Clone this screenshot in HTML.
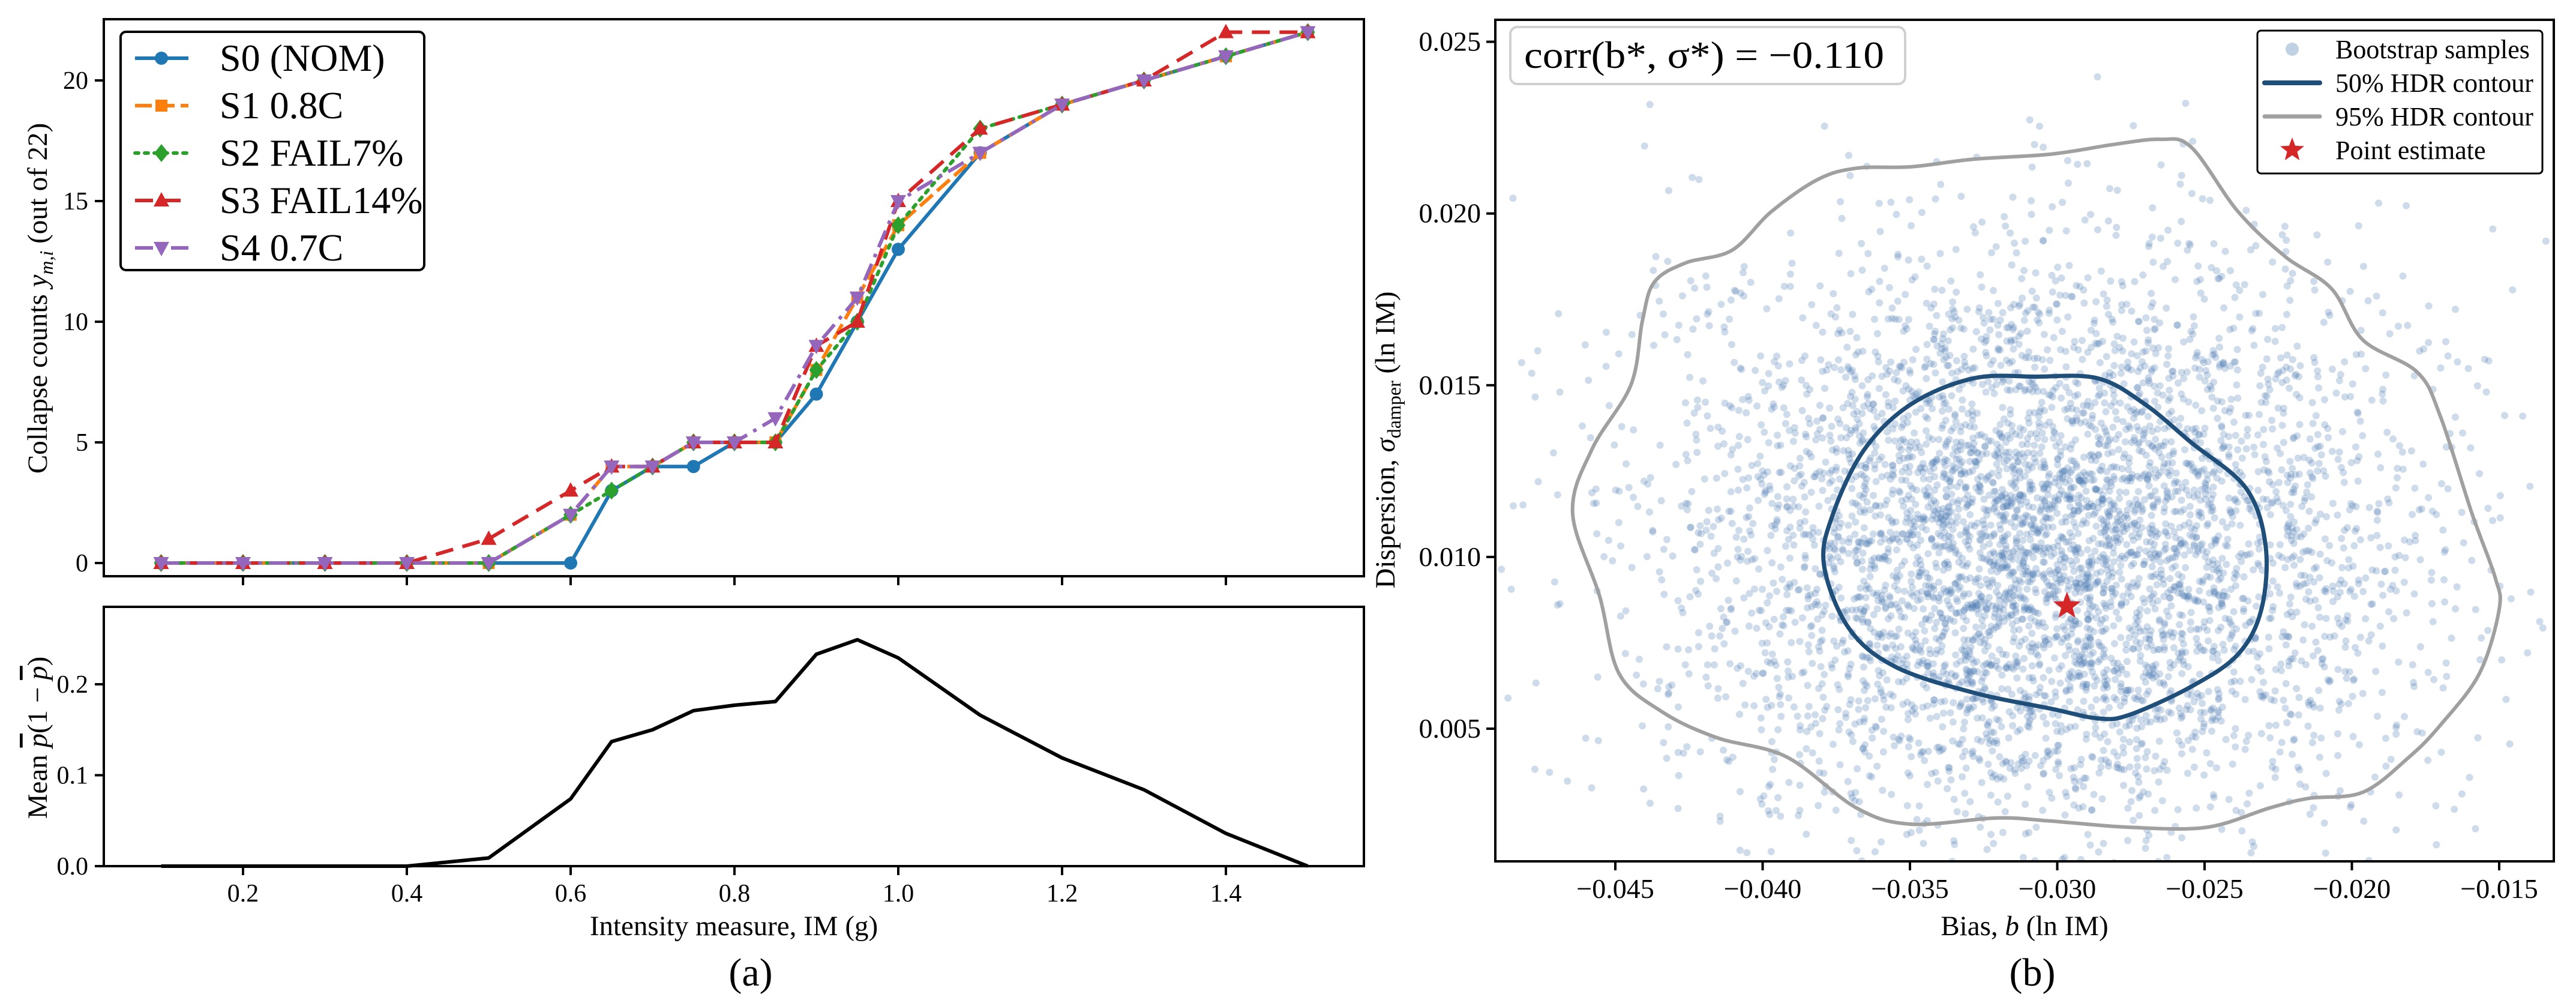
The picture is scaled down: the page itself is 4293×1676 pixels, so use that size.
<!DOCTYPE html>
<html><head><meta charset="utf-8">
<style>
html,body{margin:0;padding:0;background:#fff;}
svg, svg text{font-family:"Liberation Serif","DejaVu Serif",serif;}
svg{display:block;}
</style></head>
<body>
<svg id="fig" width="4293" height="1676" viewBox="0 0 4293 1676" xmlns="http://www.w3.org/2000/svg" font-family="Liberation Serif, DejaVu Serif, serif">
  <rect width="4293" height="1676" fill="#fff"/>
  <g id="gtop"></g>
  <g id="gbot"></g>
  <g id="gright"></g>
  <text x="1251" y="1642" font-size="66" text-anchor="middle">(a)</text>
  <text x="3387" y="1642" font-size="66" text-anchor="middle">(b)</text>
</svg>
<script>
// ---------- data: panel (a) ----------
const imLevels = [0.1,0.2,0.3,0.4,0.5,0.6,0.65,0.7,0.75,0.8,0.85,0.9,0.95,1.0,1.1,1.2,1.3,1.4,1.5];
const s0Counts = [0,0,0,0,0,0,3,4,4,5,5,7,10,13,17,19,20,21,22];
const s1Counts = [0,0,0,0,0,2,4,4,5,5,5,8,11,14,17,19,20,21,22];
const s2Counts = [0,0,0,0,0,2,3,4,5,5,5,8,10,14,18,19,20,21,22];
const s3Counts = [0,0,0,0,1,3,4,4,5,5,5,9,10,15,18,19,20,22,22];
const s4Counts = [0,0,0,0,0,2,4,4,5,5,6,9,11,15,17,19,20,21,22];
const meanPQ = [0,0,0,0,0.009,0.074,0.137,0.15,0.171,0.177,0.181,0.233,0.249,0.229,0.166,0.119,0.084,0.036,0.0];
const xTicksA = [0.2,0.4,0.6,0.8,1.0,1.2,1.4];
const xTickLabelsA = ["0.2","0.4","0.6","0.8","1.0","1.2","1.4"];
const yTicksTop = [0,5,10,15,20];
const yTicksBot = [0,0.1,0.2];
const yTickLabelsBot = ["0.0","0.1","0.2"];
const seriesNames = ["S0 (NOM)","S1 0.8C","S2 FAIL7%","S3 FAIL14%","S4 0.7C"];
// ---------- data: panel (b) ----------
const contour95B = [-0.0265,-0.02544,-0.02386,-0.02227,-0.02069,-0.01963,-0.01778,-0.01699,-0.01593,-0.01514,-0.0150,-0.01567,-0.01699,-0.01805,-0.01963,-0.02148,-0.0228,-0.02492,-0.02756,-0.0302,-0.03205,-0.03496,-0.03681,-0.03919,-0.04156,-0.04341,-0.04487,-0.04553,-0.04645,-0.04579,-0.04447,-0.04408,-0.04368,-0.04262,-0.04104,-0.03971,-0.03813,-0.03681,-0.03496,-0.03285,-0.0302,-0.02809];
const contour95S = [0.02216,0.02192,0.02005,0.01875,0.01781,0.01632,0.01538,0.01408,0.01128,0.00941,0.00848,0.00661,0.00511,0.00418,0.00315,0.00297,0.00269,0.00213,0.00213,0.00231,0.0024,0.00222,0.00269,0.00418,0.00474,0.00549,0.0066,0.00885,0.01128,0.01314,0.01501,0.01688,0.018,0.01856,0.01893,0.02005,0.02099,0.02132,0.02136,0.02158,0.02173,0.02201];
const contour50B = [-0.03073,-0.02862,-0.02703,-0.02545,-0.0236,-0.02293,-0.02307,-0.02386,-0.02544,-0.02756,-0.02862,-0.0302,-0.03285,-0.03549,-0.03707,-0.03792,-0.0376,-0.03654,-0.03496,-0.03285];
const contour50S = [0.01525,0.0152,0.01445,0.01333,0.01201,0.01034,0.00848,0.00717,0.00623,0.0054,0.0053,0.00558,0.00605,0.0068,0.00792,0.00978,0.01128,0.01314,0.01445,0.0152];
const pointEstimate = [-0.02967, 0.00857];
const sampleCenter = [-0.0305, 0.0104];
const sampleSpread = [0.0062, 0.0042];
const sampleCount = [5000];
const xTicksB = [-0.045,-0.040,-0.035,-0.030,-0.025,-0.020,-0.015];
const xTickLabelsB = ["\u22120.045","\u22120.040","\u22120.035","\u22120.030","\u22120.025","\u22120.020","\u22120.015"];
const yTicksB = [0.005,0.010,0.015,0.020,0.025];
const yTickLabelsB = ["0.005","0.010","0.015","0.020","0.025"];

const NS="http://www.w3.org/2000/svg";
const FONT='Liberation Serif, DejaVu Serif, serif';
function mk(tag, attrs, parent){const e=document.createElementNS(NS,tag);for(const k in attrs)e.setAttribute(k,attrs[k]);if(tag==='text')e.setAttribute('font-family',FONT);if(parent)parent.appendChild(e);return e;}

const AL=173, AR=2273;
const xA = v => 405 + (v-0.2)*1365;
const yTop = v => 938 - v*40.2;
const yBot = v => 1443 - v*1515;

const gTop=document.getElementById('gtop');
const gBot=document.getElementById('gbot');
const gRight=document.getElementById('gright');

let f=mk('rect',{x:AL,y:32,width:AR-AL,height:960-32,fill:'none',stroke:'#000','stroke-width':4},gTop);


xTicksA.forEach(v=>{
  const t=mk('line',{x1:xA(v),x2:xA(v),y1:960,y2:975,stroke:'#000','stroke-width':4},gTop);
  
  
});
yTicksTop.forEach(v=>{
  const t=mk('line',{x1:AL-15,x2:AL,y1:yTop(v),y2:yTop(v),stroke:'#000','stroke-width':4},gTop);
  
  
  const l=mk('text',{x:AL-26,y:yTop(v)+14,'font-size':42,'text-anchor':'end'},gTop);
  l.textContent=String(v);
  
  
});
let yl=mk('text',{x:0,y:0,'font-size':47,'text-anchor':'middle',transform:'translate(78,497) rotate(-90)'},gTop);
yl.innerHTML='Collapse counts <tspan font-style="italic">y</tspan><tspan font-style="italic" font-size="32" dy="10">m,i</tspan><tspan dy="-10"> (out of 22)</tspan>';



const colors=['#1f77b4','#ff7f0e','#2ca02c','#d62728','#9467bd'];
const dashes=['none','28,10','6,10','30,16','30,12,6,12'];
const allSeries=[s0Counts,s1Counts,s2Counts,s3Counts,s4Counts];
function marker(g,kind,cx,cy,col){
  let m;
  if(kind===0) m=mk('circle',{cx:cx,cy:cy,r:11,fill:col},g);
  else if(kind===1) m=mk('rect',{x:cx-10,y:cy-10,width:20,height:20,fill:col},g);
  else if(kind===2) m=mk('polygon',{points:`${cx},${cy-15} ${cx+12},${cy} ${cx},${cy+15} ${cx-12},${cy}`,fill:col},g);
  else if(kind===3) m=mk('polygon',{points:`${cx},${cy-14} ${cx+13},${cy+10} ${cx-13},${cy+10}`,fill:col},g);
  else m=mk('polygon',{points:`${cx},${cy+14} ${cx+13},${cy-10} ${cx-13},${cy-10}`,fill:col},g);
  return m;
}
allSeries.forEach((s,k)=>{
  const g=mk('g',{},gTop);
  
  
  const pts=s.map((v,i)=>xA(imLevels[i])+','+yTop(v)).join(' ');
  const pl=mk('polyline',{points:pts,fill:'none',stroke:colors[k],'stroke-width':6,'stroke-dasharray':dashes[k],'stroke-linejoin':'round','stroke-linecap':k===2?'round':'butt'},g);
  
  
  s.forEach((v,i)=>{
    const m=marker(g,k,xA(imLevels[i]),yTop(v),colors[k]);
    
    
  });
});
const lg=mk('g',{},gTop);


let lb=mk('rect',{x:201,y:53,width:506,height:397,rx:9,fill:'#fff',stroke:'#000','stroke-width':4},lg);


seriesNames.forEach((n,k)=>{
  const cy=97+k*79;
  const g=mk('g',{},lg);
  
  
  mk('line',{x1:225,x2:314,y1:cy,y2:cy,stroke:colors[k],'stroke-width':6,'stroke-dasharray':dashes[k],'stroke-linecap':k===2?'round':'butt'},g);
  marker(g,k,269,cy,colors[k]);
  const t=mk('text',{x:366,y:cy+21,'font-size':64},g);
  t.textContent=n;
});

let fb=mk('rect',{x:AL,y:1011,width:AR-AL,height:1443-1011,fill:'none',stroke:'#000','stroke-width':4},gBot);


xTicksA.forEach((v,i)=>{
  const t=mk('line',{x1:xA(v),x2:xA(v),y1:1443,y2:1458,stroke:'#000','stroke-width':4},gBot);
  
  
  const l=mk('text',{x:xA(v),y:1502,'font-size':42,'text-anchor':'middle'},gBot);
  l.textContent=xTickLabelsA[i];
  
  
});
yTicksBot.forEach((v,i)=>{
  const t=mk('line',{x1:AL-15,x2:AL,y1:yBot(v),y2:yBot(v),stroke:'#000','stroke-width':4},gBot);
  
  
  const l=mk('text',{x:AL-26,y:yBot(v)+14,'font-size':42,'text-anchor':'end'},gBot);
  l.textContent=yTickLabelsBot[i];
  
  
});
let mp=mk('polyline',{points:meanPQ.map((v,i)=>xA(imLevels[i])+','+yBot(v)).join(' '),fill:'none',stroke:'#000','stroke-width':6,'stroke-linejoin':'round'},gBot);


let yl2=mk('text',{x:0,y:0,'font-size':47,'text-anchor':'middle',transform:'translate(78,1229) rotate(-90)'},gBot);
yl2.innerHTML='Mean <tspan font-style="italic" text-decoration="overline">p</tspan>(1 \u2212 <tspan font-style="italic" text-decoration="overline">p</tspan>)';


let xl=mk('text',{x:1223,y:1558,'font-size':47,'text-anchor':'middle'},gBot);
xl.textContent='Intensity measure, IM (g)';



const BL=2492, BR=4256, BT=33, BB=1435;
const xB = v => 2692 + (v+0.045)/0.005*245.5;
const yB = v => 1214 - (v-0.005)/0.005*286.1;
const defs=mk('defs',{},gRight);
const clip=mk('clipPath',{id:'bclip'},defs);
mk('rect',{x:BL,y:BT,width:BR-BL,height:BB-BT},clip);
const sg=mk('g',{'clip-path':'url(#bclip)'},gRight);


// deterministic seeded sampler (bootstrap cloud cannot be read point-by-point)
let seed=12345;
function rnd(){seed=(seed*16807)%2147483647;return seed/2147483647;}
let dots='';
for(let i=0;i<sampleCount[0];i++){
  const u=Math.max(rnd(),1e-9), w=rnd();
  const r=Math.sqrt(-2*Math.log(u));
  const b=sampleCenter[0]+sampleSpread[0]*r*Math.cos(2*Math.PI*w);
  const s=sampleCenter[1]+sampleSpread[1]*r*Math.sin(2*Math.PI*w);
  dots+=`<circle cx="${xB(b).toFixed(1)}" cy="${yB(s).toFixed(1)}" r="6"/>`;
}
const dg=mk('g',{fill:'#4a7bb0','fill-opacity':0.27},sg);
dg.innerHTML=dots;
function smoothPath(bs,ss){
  const P=bs.map((b,i)=>[xB(b),yB(ss[i])]);const n=P.length;let d=`M${P[0][0]},${P[0][1]}`;
  for(let i=0;i<n;i++){const p0=P[(i-1+n)%n],p1=P[i],p2=P[(i+1)%n],p3=P[(i+2)%n];
    d+=` C${p1[0]+(p2[0]-p0[0])/6},${p1[1]+(p2[1]-p0[1])/6} ${p2[0]-(p3[0]-p1[0])/6},${p2[1]-(p3[1]-p1[1])/6} ${p2[0]},${p2[1]}`;}
  return d+'Z';
}
let c95=mk('path',{d:smoothPath(contour95B,contour95S),fill:'none',stroke:'#a0a0a0','stroke-width':6},gRight);


let c50=mk('path',{d:smoothPath(contour50B,contour50S),fill:'none',stroke:'#1f4e79','stroke-width':7},gRight);


function star(cx,cy,R){let p=[];for(let i=0;i<10;i++){const a=-Math.PI/2+i*Math.PI/5;const rr=i%2?R*0.42:R;p.push((cx+rr*Math.cos(a)).toFixed(1)+','+(cy+rr*Math.sin(a)).toFixed(1));}return p.join(' ');}
let st=mk('polygon',{points:star(xB(pointEstimate[0]),yB(pointEstimate[1]),24),fill:'#d62728'},gRight);


let fr=mk('rect',{x:BL,y:BT,width:BR-BL,height:BB-BT,fill:'none',stroke:'#000','stroke-width':4},gRight);


xTicksB.forEach((v,i)=>{
  const t=mk('line',{x1:xB(v),x2:xB(v),y1:BB,y2:BB+15,stroke:'#000','stroke-width':4},gRight);
  
  
  const l=mk('text',{x:xB(v),y:1496,'font-size':46,'text-anchor':'middle'},gRight);
  l.textContent=xTickLabelsB[i];
  
  
});
yTicksB.forEach((v,i)=>{
  const t=mk('line',{x1:BL-15,x2:BL,y1:yB(v),y2:yB(v),stroke:'#000','stroke-width':4},gRight);
  
  
  const l=mk('text',{x:BL-24,y:yB(v)+15,'font-size':46,'text-anchor':'end'},gRight);
  l.textContent=yTickLabelsB[i];
  
  
});
let xlb=mk('text',{x:3374,y:1558,'font-size':47,'text-anchor':'middle'},gRight);
xlb.innerHTML='Bias, <tspan font-style="italic">b</tspan> (ln IM)';


let ylb=mk('text',{x:0,y:0,'font-size':47,'text-anchor':'middle',transform:'translate(2324,733) rotate(-90)'},gRight);
ylb.innerHTML='Dispersion, <tspan font-style="italic">σ</tspan><tspan font-size="32" dy="10">damper</tspan><tspan dy="-10"> (ln IM)</tspan>';


let cb=mk('rect',{x:2517,y:45,width:658,height:95,rx:12,fill:'#fff','fill-opacity':0.85,stroke:'#d0d0d0','stroke-width':4},gRight);


let ct=mk('text',{x:2540,y:113,'font-size':64,textLength:600,lengthAdjust:'spacingAndGlyphs'},gRight);
ct.textContent='corr(b*, σ*) = \u22120.110';


const lgb=mk('g',{},gRight);


let lbb=mk('rect',{x:3762,y:51,width:475,height:238,rx:6,fill:'#fff',stroke:'#000','stroke-width':3},lgb);


const legB=['Bootstrap samples','50% HDR contour','95% HDR contour','Point estimate'];
legB.forEach((n,k)=>{
  const cy=82+k*56;
  const g=mk('g',{},lgb);
  
  
  if(k===0) mk('circle',{cx:3820,cy:cy,r:11,fill:'#4a7bb0','fill-opacity':0.35},g);
  if(k===1) mk('line',{x1:3774,x2:3866,y1:cy,y2:cy,stroke:'#1f4e79','stroke-width':8,'stroke-linecap':'round'},g);
  if(k===2) mk('line',{x1:3774,x2:3866,y1:cy,y2:cy,stroke:'#a0a0a0','stroke-width':7,'stroke-linecap':'round'},g);
  if(k===3) mk('polygon',{points:star(3820,cy,21),fill:'#d62728'},g);
  const t=mk('text',{x:3892,y:cy+15,'font-size':44},g);
  t.textContent=n;
});
</script>
</body></html>
